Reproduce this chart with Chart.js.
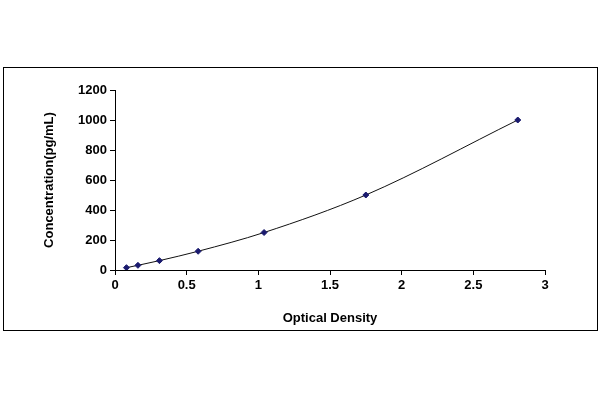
<!DOCTYPE html>
<html><head><meta charset="utf-8">
<script src="https://cdn.jsdelivr.net/npm/chart.js@4"></script>
<style>
html,body{margin:0;padding:0;background:#fff;}
#frame{position:absolute;left:3px;top:67px;width:593px;height:262px;border:1px solid #000;}
#wrap{position:absolute;left:0;top:0;width:600px;height:400px;}
</style></head><body>
<div id="frame"></div>
<div id="wrap"><canvas id="c" width="600" height="400"></canvas></div>
<script>
const od = [0.08, 0.16, 0.31, 0.58, 1.04, 1.75, 2.81];
const conc = [15.6, 31.25, 62.5, 125, 250, 500, 1000];
const xTicks = [0, 0.5, 1, 1.5, 2, 2.5, 3];
const yTicks = [0, 200, 400, 600, 800, 1000, 1200];
const font = {family:'"Liberation Sans", Arial, sans-serif', size:13, weight:'bold'};
new Chart(document.getElementById('c'), {
  type:'scatter',
  data:{datasets:[{
    data: od.map((x,i)=>({x:x,y:conc[i]})),
    showLine:true, tension:0.4, cubicInterpolationMode:'monotone',
    borderColor:'#111', borderWidth:1,
    pointStyle:'rectRot', pointRadius:3, pointBackgroundColor:'#1a1a6e', pointBorderColor:'#1a1a6e'
  }]},
  options:{
    responsive:false, animation:false,
    layout:{padding:{left:38,right:55,top:90,bottom:70}},
    plugins:{legend:{display:false},tooltip:{enabled:false}},
    scales:{
      x:{type:'linear',min:0,max:3,
        afterBuildTicks:a=>{a.ticks=xTicks.map(v=>({value:v}));},
        afterFit:a=>{a.height=60;},
        grid:{drawOnChartArea:false,tickLength:5,color:'#000'},
        border:{color:'#000'},
        ticks:{color:'#000',font:font,padding:3,maxRotation:0,callback:v=>String(v)},
        title:{display:true,text:'Optical Density',color:'#000',font:font,padding:{top:0}}},
      y:{min:0,max:1200,
        afterBuildTicks:a=>{a.ticks=yTicks.map(v=>({value:v}));},
        afterFit:a=>{a.width=77;},
        grid:{drawOnChartArea:false,tickLength:5,color:'#000'},
        border:{color:'#000'},
        ticks:{color:'#000',font:font,padding:3,callback:v=>String(v)},
        title:{display:true,text:'Concentration(pg/mL)',color:'#000',font:font,padding:{bottom:4}}}
    }
  }
});
</script></body></html>
